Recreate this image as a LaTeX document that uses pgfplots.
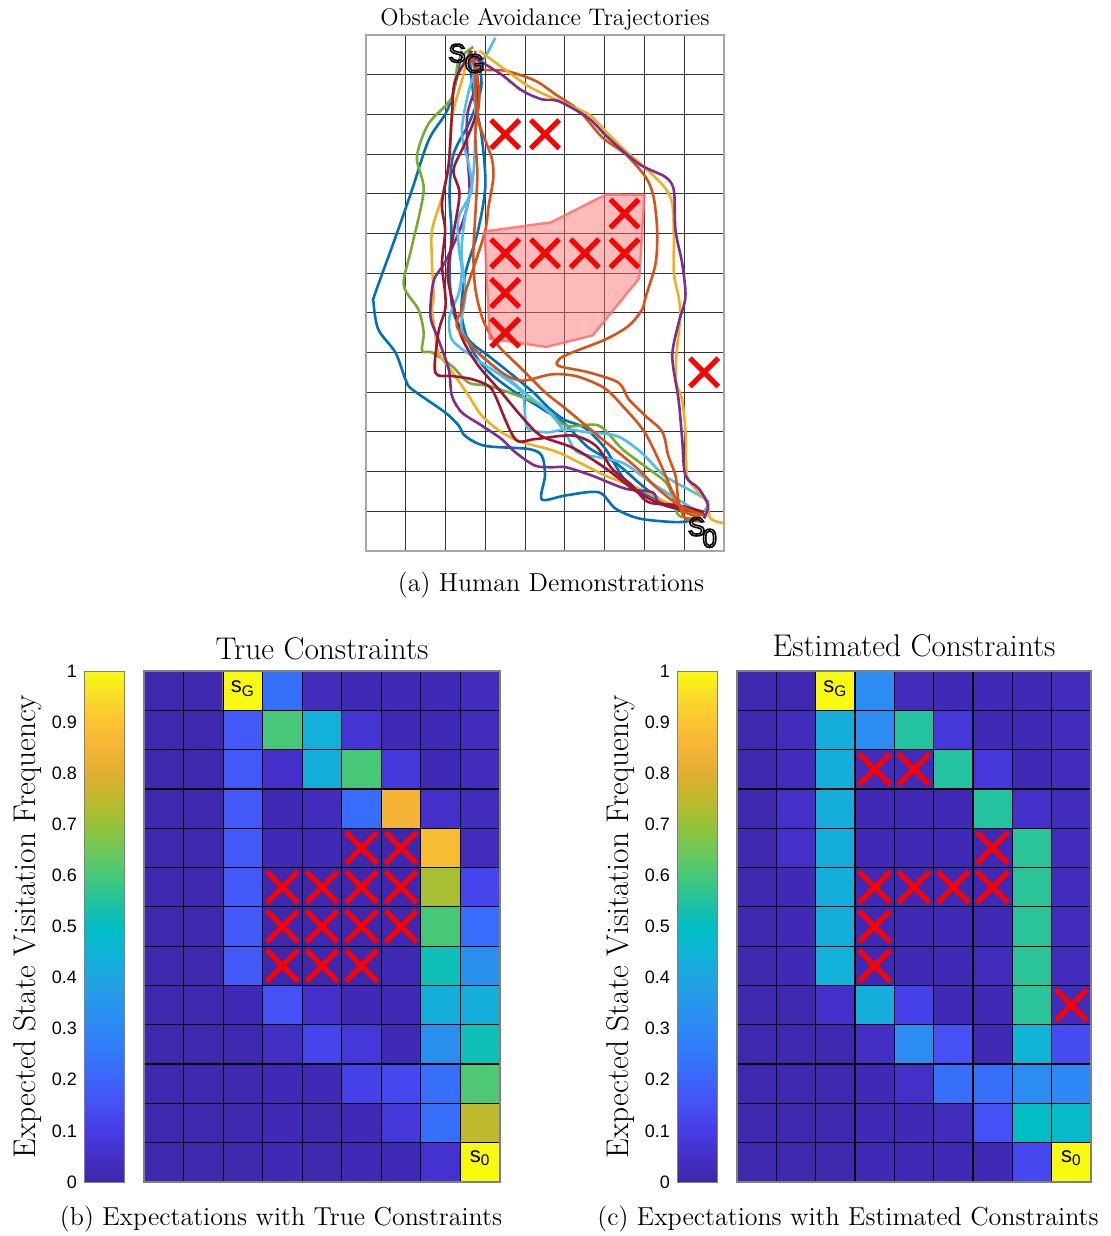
\documentclass[border=0pt]{standalone}
\usepackage{pgfplots}
\pgfplotsset{compat=1.18}
\usepackage{fontspec}
\setsansfont{Liberation Sans}
\newfontfamily\halofont[FakeBold=6]{Liberation Sans}

% MATLAB line colours
\definecolor{mblue}{RGB}{0,114,189}
\definecolor{morange}{RGB}{217,83,25}
\definecolor{myellow}{RGB}{237,177,32}
\definecolor{mpurple}{RGB}{126,47,142}
\definecolor{mgreen}{RGB}{119,172,48}
\definecolor{mlblue}{RGB}{77,190,238}
\definecolor{mred}{RGB}{162,20,47}
\definecolor{salmon}{RGB}{255,110,110}

\pgfplotsset{
  colormap={parula}{rgb255=(62,38,168) rgb255=(68,48,200) rgb255=(70,60,230)
    rgb255=(70,80,245) rgb255=(60,100,250) rgb255=(50,120,250) rgb255=(45,135,245)
    rgb255=(40,150,235) rgb255=(30,165,225) rgb255=(15,180,215) rgb255=(0,190,195)
    rgb255=(35,195,160) rgb255=(70,200,120) rgb255=(110,200,90) rgb255=(150,195,55)
    rgb255=(190,185,45) rgb255=(225,175,50) rgb255=(245,180,55) rgb255=(252,195,50)
    rgb255=(250,220,40) rgb255=(248,250,15)},
  cells/.style={anchor=south west, scale only axis, height=255.5pt,
    xmin=0, xmax=9, ymin=0, ymax=13},
  heat/.style={cells,
    xtick={0,...,9}, ytick={0,...,13}, xticklabels={}, yticklabels={},
    major tick length=0pt, grid=major,
    major grid style={black, line width=0.6pt},
    axis on top, axis line style={gray, line width=0.6pt},
    point meta min=0, point meta max=1},
  % colour scale drawn on the same 0..9 x 0..13 frame, value v at y = 13 v
  cbar/.style={cells, width=20pt, xtick=\empty,
    ytick={0,1.3,2.6,3.9,5.2,6.5,7.8,9.1,10.4,11.7,13},
    yticklabels={0,0.1,0.2,0.3,0.4,0.5,0.6,0.7,0.8,0.9,1},
    major tick length=0pt, axis on top,
    yticklabel style={font=\sffamily\fontsize{9}{10}\selectfont},
    axis line style={gray},
    point meta min=0, point meta max=13,
    ylabel={Expected State Visitation Frequency},
    ylabel style={font=\fontsize{15.7}{18}\selectfont,
      at={(axis description cs:-1.4,0.5)}, anchor=center}},
  over/.style={cells, hide axis},
  traj/.style={smooth, tension=0.5, line width=1.3pt},
  cross/.style={only marks, mark=x, red, mark options={line width=2.6pt}},
}

% white letter with a black outline
\newcommand{\halo}[2]{%
  \node[text=white, font=\halofont\fontsize{13}{14}\selectfont] at (#1)
    {\special{pdf:literal direct 0 G}#2};}

\begin{document}
\begin{tikzpicture}
\useasboundingbox (0,0) rectangle (555.5pt,618pt);

% ---------- (a) trajectories ----------
\begin{axis}[at={(183pt,342.5pt)}, anchor=south west, scale only axis,
  width=179pt, height=258pt, xmin=0, xmax=9, ymin=0, ymax=13,
  xtick={0,...,9}, ytick={0,...,13}, xticklabels={}, yticklabels={},
  major tick length=0pt, grid=major,
  major grid style={black!80, line width=0.5pt},
  axis line style={gray!70, line width=0.6pt},
  title={Obstacle Avoidance Trajectories},
  title style={font=\fontsize{12}{14}\selectfont, yshift=-7pt}]

\addplot[traj, mblue] coordinates {(2.4,12.6) (2.3,12.0) (2.15,11.4) (1.99,11.0) (1.57,10.34) (1.15,9.08) (0.74,7.9) (0.23,6.49) (0.19,6.25) (0.31,5.58) (0.74,5.0) (0.99,4.33) (1.15,4.08) (1.99,3.49) (2.33,3.16) (2.49,2.9) (2.99,2.65) (4.08,2.57) (4.42,2.4) (4.5,1.9) (4.42,1.3) (5.02,1.4) (5.85,1.48) (6.27,1.07) (6.86,0.82) (7.7,0.73) (8.1,0.75) (8.4,0.85)};
\addplot[traj, mblue] coordinates {(2.6,12.5) (2.7,11.5) (2.9,10.5) (3.0,9.2) (2.8,8.0) (2.5,7.0) (2.4,6.0) (2.6,5.2) (3.0,4.6) (3.6,4.1) (4.4,3.6) (5.0,3.2) (5.6,2.6) (6.3,2.2) (7.0,1.6) (7.7,1.1) (8.4,0.9)};
\addplot[traj, mblue] coordinates {(2.8,12.5) (2.9,11.7) (2.6,10.8) (2.2,10.0) (2.1,9.0) (2.15,8.0) (2.1,7.0) (2.2,6.0) (2.6,5.3) (3.1,4.9) (3.6,4.5) (4.2,4.0) (4.6,3.6) (5.0,3.3) (5.5,3.1) (6.0,2.6) (6.5,1.8) (7.0,1.45) (7.6,1.2) (8.3,0.95)};
\addplot[traj, mgreen] coordinates {(2.7,12.7) (2.33,12.35) (2.16,11.43) (1.57,10.76) (1.28,9.92) (1.45,9.08) (1.15,7.66) (0.95,6.7) (1.32,6.08) (1.45,5.5) (1.41,5.04) (1.66,5.0) (2.16,4.66) (2.58,4.24) (3.08,4.16) (3.83,3.91) (4.42,3.66) (5.02,3.16) (5.85,3.16) (6.44,2.57) (7.1,2.07) (7.53,1.74) (7.7,1.4) (7.86,0.9) (8.28,0.82)};
\addplot[traj, myellow] coordinates {(2.6,12.6) (2.41,11.85) (2.16,10.93) (2.08,9.75) (1.91,8.92) (1.66,8.08) (1.66,7.24) (1.7,6.4) (1.66,6.08) (1.74,5.5) (1.82,5.0) (2.24,4.41) (2.58,3.91) (2.91,3.41) (3.41,2.99) (3.92,2.74) (4.58,2.57) (5.02,2.4) (6.02,1.9) (6.86,1.57) (7.53,1.23) (8.12,0.98) (8.5,0.9)};
\addplot[traj, mpurple] coordinates {(2.6,12.5) (2.8,11.9) (2.55,11.0) (2.55,10.0) (2.6,9.0) (2.4,8.2) (2.0,7.3) (1.7,6.8) (1.62,5.92) (1.82,5.33) (2.08,4.58) (2.16,3.91) (2.41,3.49) (2.91,3.16) (3.41,2.82) (3.75,2.49) (4.25,2.15) (4.67,2.11) (5.02,2.11) (5.68,1.9) (6.52,1.57) (7.2,1.48) (7.36,1.23) (7.95,1.07) (8.5,0.9)};
\addplot[traj, mlblue] coordinates {(3.25,12.93) (3.08,12.6) (2.66,11.85) (2.41,10.6) (2.58,9.75) (2.66,9.08) (2.33,8.41) (2.33,7.66) (2.41,7.08) (2.33,6.49) (2.1,5.9) (2.16,5.33) (2.66,4.91) (3.41,4.41) (3.92,3.99) (4.0,3.41) (4.08,3.07) (4.58,2.99) (5.02,3.07) (5.5,3.0) (6.3,2.9) (6.9,2.5) (7.5,1.9) (8.2,1.5) (8.6,1.25) (8.5,1.0)};
\addplot[traj, mlblue] coordinates {(2.7,12.4) (2.75,11.0) (2.7,9.5) (2.5,8.5) (2.4,7.5) (2.5,6.5) (2.4,5.6) (2.8,5.0) (3.4,4.5) (4.1,3.9) (4.6,3.5) (5.0,3.0) (5.3,2.5) (5.9,2.35) (6.5,2.2) (7.2,1.7) (8.0,1.2) (8.5,0.9)};
\addplot[traj, mred] coordinates {(2.66,12.6) (2.24,11.85) (2.16,11.0) (2.08,9.75) (1.91,8.75) (1.99,8.08) (1.91,7.24) (1.99,6.49) (1.99,6.08) (1.82,5.5) (1.74,4.5) (2.16,4.41) (2.66,4.33) (3.08,4.16) (3.25,3.91) (3.75,2.82) (4.25,2.82) (5.18,2.91) (5.77,2.66) (6.19,2.07) (6.69,1.65) (7.1,1.23) (7.86,1.15) (8.5,0.98)};
\addplot[traj, mred] coordinates {(2.7,12.5) (2.8,11.2) (2.5,10.3) (2.2,9.6) (2.35,9.0) (2.2,8.0) (2.05,7.0) (2.2,6.2) (2.4,5.4) (2.8,4.7) (3.4,4.0) (3.9,3.4) (4.4,2.9) (5.2,2.6) (6.0,2.1) (6.8,1.5) (7.5,1.15) (8.2,1.0) (8.55,0.9)};
\addplot[traj, morange] coordinates {(2.75,12.6) (2.74,12.0) (2.79,11.0) (2.9,10.6) (3.16,9.9) (3.2,9.4) (3.08,8.67) (3.0,8.08) (2.74,7.24) (2.49,6.49) (2.41,6.08) (2.28,5.67) (2.74,5.08) (3.41,4.5) (3.92,4.29) (4.67,4.45) (5.3,4.4) (6.0,4.1) (6.5,3.6) (7.0,3.0) (7.4,2.2) (7.7,1.5) (8.0,1.0) (8.4,0.85)};
\addplot[traj, morange] coordinates {(2.7,12.5) (2.85,11.5) (2.75,10.5) (2.8,9.5) (2.75,8.5) (2.7,7.5) (2.75,6.6) (2.95,5.8) (3.3,5.2) (3.9,4.6) (4.5,4.0) (5.0,3.6) (5.6,3.1) (6.2,2.6) (6.8,2.1) (7.3,1.6) (7.8,1.2) (8.2,1.0) (8.5,0.9)};
\addplot[traj, morange] coordinates {(2.6,12.5) (2.83,12.14) (3.5,12.1) (4.25,11.85) (4.77,11.5) (5.35,11.1) (5.94,10.42) (6.52,10.0) (7.03,9.42) (7.23,8.92) (7.32,8.08) (7.28,7.24) (7.03,6.4) (6.94,6.08) (6.6,5.67) (6.02,5.33) (5.18,5.0) (4.85,4.83) (4.85,4.66) (5.6,4.5) (6.35,4.24) (6.6,3.83) (7.03,3.4) (7.45,3.0) (7.6,2.4) (7.78,1.9) (7.86,1.23) (8.03,0.82) (8.4,0.75)};
\addplot[traj, myellow] coordinates {(2.85,12.6) (3.4,12.2) (4.1,11.7) (4.85,11.34) (5.6,11.0) (6.0,10.6) (6.5,10.1) (7.0,9.67) (7.5,9.17) (7.7,8.75) (7.74,7.9) (7.74,7.0) (7.86,6.4) (7.9,5.9) (7.8,4.9) (7.8,4.24) (7.95,3.8) (8.04,2.9) (8.07,1.9) (8.28,1.57) (8.57,1.23) (8.66,0.82) (9.0,0.7)};
\addplot[traj, mpurple] coordinates {(2.6,12.6) (2.74,12.43) (3.41,12.0) (3.92,11.6) (4.42,11.38) (4.85,11.33) (5.6,10.9) (6.1,10.4) (6.86,9.75) (7.53,9.42) (7.74,9.08) (7.78,8.08) (7.95,7.24) (8.03,6.4) (7.86,5.75) (7.7,4.9) (7.86,3.8) (7.95,2.8) (8.03,1.9) (8.37,1.57) (8.6,1.15) (8.5,0.82)};

\addplot[cross, mark size=10pt] coordinates {(3.5,10.5) (4.5,10.5) (6.5,8.5) (3.5,7.5) (4.5,7.5) (5.5,7.5) (6.5,7.5) (3.5,6.5) (3.5,5.5) (8.5,4.5)};
\addplot[fill=salmon, fill opacity=0.48, draw=salmon, draw opacity=0.85, line width=1.2pt] coordinates {(2.98,8.05) (4.65,8.28) (6.03,8.98) (7.0,8.97) (6.87,6.87) (5.7,5.43) (4.53,5.14) (3.11,5.35)} --cycle;

\coordinate (S1) at (axis cs:2.29,12.54);
\coordinate (S2) at (axis cs:2.73,12.28);
\coordinate (S3) at (axis cs:8.31,0.61);
\coordinate (S4) at (axis cs:8.64,0.32);
\end{axis}
\halo{S1}{S}
\halo{S2}{G}
\halo{S3}{S}
\halo{S4}{0}
\node[font=\fontsize{13}{15}\selectfont] at (275.5pt,325.5pt) {(a) Human Demonstrations};

% ---------- (b) true constraints ----------
\begin{axis}[cbar, at={(42pt,27pt)}]
\addplot[surf, shader=interp, point meta=y, mesh/cols=2] coordinates {(0,0) (9,0) (0,13) (9,13)};
\end{axis}
\begin{axis}[heat, at={(72pt,27pt)}, width=178pt, title={True Constraints},
  title style={font=\fontsize{15.7}{18}\selectfont, yshift=-4pt}]
\addplot[matrix plot*, point meta=explicit, mesh/cols=9] coordinates {
(0.5,12.5)[.01] (1.5,12.5)[.01] (2.5,12.5)[1] (3.5,12.5)[.23] (4.5,12.5)[.03] (5.5,12.5)[.02] (6.5,12.5)[.02] (7.5,12.5)[.02] (8.5,12.5)[.03]
(0.5,11.5)[.01] (1.5,11.5)[.01] (2.5,11.5)[.17] (3.5,11.5)[.6] (4.5,11.5)[.44] (5.5,11.5)[.07] (6.5,11.5)[.02] (7.5,11.5)[.02] (8.5,11.5)[.03]
(0.5,10.5)[.01] (1.5,10.5)[.01] (2.5,10.5)[.17] (3.5,10.5)[.05] (4.5,10.5)[.43] (5.5,10.5)[.6] (6.5,10.5)[.08] (7.5,10.5)[.02] (8.5,10.5)[.03]
(0.5,9.5)[.01] (1.5,9.5)[.01] (2.5,9.5)[.17] (3.5,9.5)[.02] (4.5,9.5)[.03] (5.5,9.5)[.22] (6.5,9.5)[.85] (7.5,9.5)[.05] (8.5,9.5)[.03]
(0.5,8.5)[.01] (1.5,8.5)[.01] (2.5,8.5)[.17] (3.5,8.5)[.02] (4.5,8.5)[.02] (5.5,8.5)[.01] (6.5,8.5)[.01] (7.5,8.5)[.88] (8.5,8.5)[.03]
(0.5,7.5)[.01] (1.5,7.5)[.01] (2.5,7.5)[.17] (3.5,7.5)[.01] (4.5,7.5)[.01] (5.5,7.5)[.01] (6.5,7.5)[.01] (7.5,7.5)[.72] (8.5,7.5)[.12]
(0.5,6.5)[.01] (1.5,6.5)[.01] (2.5,6.5)[.17] (3.5,6.5)[.01] (4.5,6.5)[.01] (5.5,6.5)[.01] (6.5,6.5)[.01] (7.5,6.5)[.6] (8.5,6.5)[.22]
(0.5,5.5)[.01] (1.5,5.5)[.01] (2.5,5.5)[.17] (3.5,5.5)[.01] (4.5,5.5)[.01] (5.5,5.5)[.01] (6.5,5.5)[.02] (7.5,5.5)[.52] (8.5,5.5)[.33]
(0.5,4.5)[.01] (1.5,4.5)[.01] (2.5,4.5)[.02] (3.5,4.5)[.15] (4.5,4.5)[.05] (5.5,4.5)[.02] (6.5,4.5)[.02] (7.5,4.5)[.43] (8.5,4.5)[.43]
(0.5,3.5)[.01] (1.5,3.5)[.01] (2.5,3.5)[.01] (3.5,3.5)[.04] (4.5,3.5)[.12] (5.5,3.5)[.08] (6.5,3.5)[.02] (7.5,3.5)[.33] (8.5,3.5)[.52]
(0.5,2.5)[.01] (1.5,2.5)[.01] (2.5,2.5)[.01] (3.5,2.5)[.02] (4.5,2.5)[.02] (5.5,2.5)[.11] (6.5,2.5)[.13] (7.5,2.5)[.23] (8.5,2.5)[.61]
(0.5,1.5)[.01] (1.5,1.5)[.01] (2.5,1.5)[.01] (3.5,1.5)[.02] (4.5,1.5)[.01] (5.5,1.5)[.02] (6.5,1.5)[.08] (7.5,1.5)[.23] (8.5,1.5)[.75]
(0.5,0.5)[.01] (1.5,0.5)[.01] (2.5,0.5)[.01] (3.5,0.5)[.02] (4.5,0.5)[.01] (5.5,0.5)[.02] (6.5,0.5)[.02] (7.5,0.5)[.06] (8.5,0.5)[1]
};
\end{axis}
\begin{axis}[over, at={(72pt,27pt)}, width=178pt]
\addplot[cross, mark size=11pt] coordinates {(5.5,8.5) (6.5,8.5) (3.5,7.5) (4.5,7.5) (5.5,7.5) (6.5,7.5) (3.5,6.5) (4.5,6.5) (5.5,6.5) (6.5,6.5) (3.5,5.5) (4.5,5.5) (5.5,5.5)};
\node[font=\sffamily\fontsize{11}{12}\selectfont] at (axis cs:2.5,12.55) {s\textsubscript{G}};
\node[font=\sffamily\fontsize{11}{12}\selectfont] at (axis cs:8.5,0.6) {s\textsubscript{0}};
\end{axis}
\node[font=\fontsize{13}{15}\selectfont] at (140.5pt,8.5pt) {(b) Expectations with True Constraints};

% ---------- (c) estimated constraints ----------
\begin{axis}[cbar, at={(338.5pt,27pt)}]
\addplot[surf, shader=interp, point meta=y, mesh/cols=2] coordinates {(0,0) (9,0) (0,13) (9,13)};
\end{axis}
\begin{axis}[heat, at={(368.5pt,27pt)}, width=177pt, title={Estimated Constraints},
  title style={font=\fontsize{15.7}{18}\selectfont, yshift=-2.5pt}]
\addplot[matrix plot*, point meta=explicit, mesh/cols=9] coordinates {
(0.5,12.5)[.01] (1.5,12.5)[.01] (2.5,12.5)[1] (3.5,12.5)[.32] (4.5,12.5)[.03] (5.5,12.5)[.02] (6.5,12.5)[.02] (7.5,12.5)[.02] (8.5,12.5)[.03]
(0.5,11.5)[.01] (1.5,11.5)[.03] (2.5,11.5)[.43] (3.5,11.5)[.32] (4.5,11.5)[.55] (5.5,11.5)[.08] (6.5,11.5)[.02] (7.5,11.5)[.02] (8.5,11.5)[.03]
(0.5,10.5)[.01] (1.5,10.5)[.03] (2.5,10.5)[.43] (3.5,10.5)[.03] (4.5,10.5)[.03] (5.5,10.5)[.55] (6.5,10.5)[.08] (7.5,10.5)[.02] (8.5,10.5)[.03]
(0.5,9.5)[.01] (1.5,9.5)[.05] (2.5,9.5)[.43] (3.5,9.5)[.02] (4.5,9.5)[.02] (5.5,9.5)[.02] (6.5,9.5)[.55] (7.5,9.5)[.05] (8.5,9.5)[.03]
(0.5,8.5)[.01] (1.5,8.5)[.05] (2.5,8.5)[.43] (3.5,8.5)[.02] (4.5,8.5)[.02] (5.5,8.5)[.02] (6.5,8.5)[.02] (7.5,8.5)[.56] (8.5,8.5)[.03]
(0.5,7.5)[.01] (1.5,7.5)[.02] (2.5,7.5)[.43] (3.5,7.5)[.02] (4.5,7.5)[.02] (5.5,7.5)[.02] (6.5,7.5)[.02] (7.5,7.5)[.56] (8.5,7.5)[.03]
(0.5,6.5)[.01] (1.5,6.5)[.02] (2.5,6.5)[.43] (3.5,6.5)[.02] (4.5,6.5)[.02] (5.5,6.5)[.02] (6.5,6.5)[.02] (7.5,6.5)[.56] (8.5,6.5)[.03]
(0.5,5.5)[.01] (1.5,5.5)[.02] (2.5,5.5)[.44] (3.5,5.5)[.02] (4.5,5.5)[.02] (5.5,5.5)[.02] (6.5,5.5)[.03] (7.5,5.5)[.56] (8.5,5.5)[.03]
(0.5,4.5)[.01] (1.5,4.5)[.01] (2.5,4.5)[.05] (3.5,4.5)[.43] (4.5,4.5)[.11] (5.5,4.5)[.02] (6.5,4.5)[.02] (7.5,4.5)[.56] (8.5,4.5)[.03]
(0.5,3.5)[.01] (1.5,3.5)[.01] (2.5,3.5)[.01] (3.5,3.5)[.04] (4.5,3.5)[.32] (5.5,3.5)[.15] (6.5,3.5)[.02] (7.5,3.5)[.45] (8.5,3.5)[.14]
(0.5,2.5)[.01] (1.5,2.5)[.01] (2.5,2.5)[.01] (3.5,2.5)[.02] (4.5,2.5)[.05] (5.5,2.5)[.23] (6.5,2.5)[.23] (7.5,2.5)[.32] (8.5,2.5)[.30]
(0.5,1.5)[.01] (1.5,1.5)[.01] (2.5,1.5)[.01] (3.5,1.5)[.02] (4.5,1.5)[.02] (5.5,1.5)[.03] (6.5,1.5)[.15] (7.5,1.5)[.50] (8.5,1.5)[.48]
(0.5,0.5)[.01] (1.5,0.5)[.01] (2.5,0.5)[.01] (3.5,0.5)[.02] (4.5,0.5)[.02] (5.5,0.5)[.02] (6.5,0.5)[.02] (7.5,0.5)[.13] (8.5,0.5)[1]
};
\end{axis}
\begin{axis}[over, at={(368.5pt,27pt)}, width=177pt]
\addplot[cross, mark size=11pt] coordinates {(3.5,10.5) (4.5,10.5) (6.5,8.5) (3.5,7.5) (4.5,7.5) (5.5,7.5) (6.5,7.5) (3.5,6.5) (3.5,5.5) (8.5,4.5)};
\node[font=\sffamily\fontsize{11}{12}\selectfont] at (axis cs:2.5,12.55) {s\textsubscript{G}};
\node[font=\sffamily\fontsize{11}{12}\selectfont] at (axis cs:8.5,0.6) {s\textsubscript{0}};
\end{axis}
\node[font=\fontsize{13}{15}\selectfont] at (424pt,8.5pt) {(c) Expectations with Estimated Constraints};
\end{tikzpicture}
\end{document}
